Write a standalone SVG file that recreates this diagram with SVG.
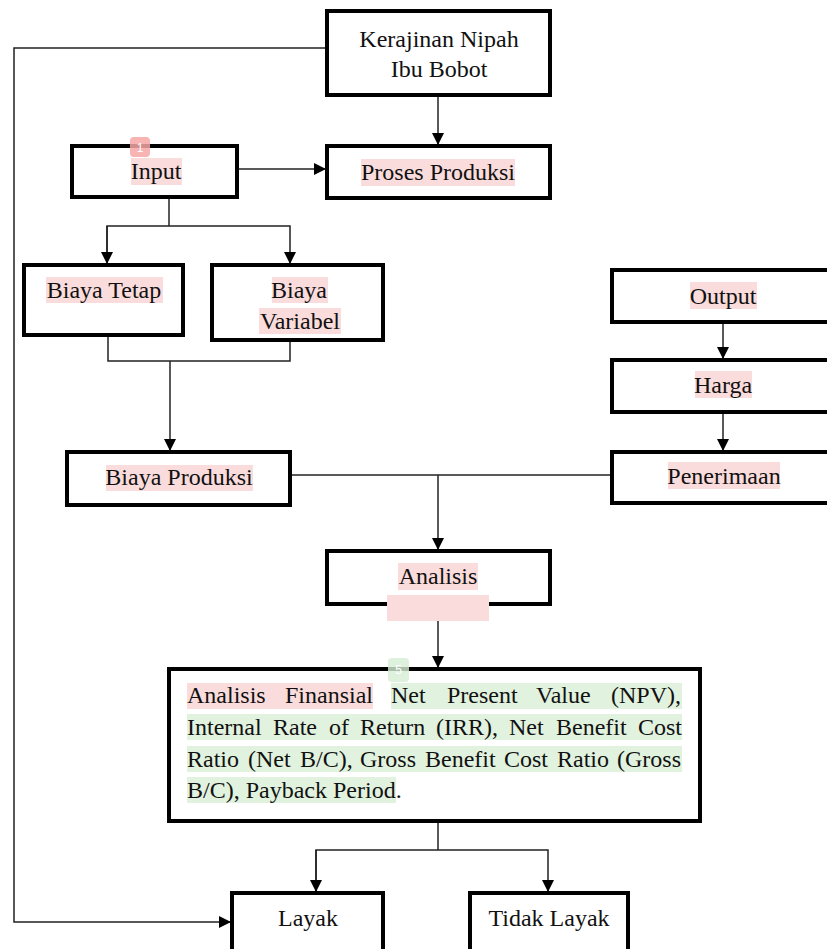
<svg xmlns="http://www.w3.org/2000/svg" width="827" height="949" viewBox="0 0 827 949">
<style>
.box{fill:#fff;stroke:#000;stroke-width:4}
.t{font-family:"Liberation Serif","Times New Roman",serif;font-size:24px;fill:#111;text-anchor:middle}
.j{font-family:"Liberation Serif","Times New Roman",serif;font-size:24px;fill:#111}
.c{fill:none;stroke:#222;stroke-width:1.5}
.pk{fill:#fbdcdc}
.gr{fill:#e1f2df}
</style>
<defs>
<marker id="ah" markerUnits="userSpaceOnUse" markerWidth="12" markerHeight="12" refX="12" refY="6" orient="auto">
<path d="M0,0 L12,6 L0,12 z" fill="#000"/>
</marker>
</defs>
<rect width="827" height="949" fill="#fff"/>
<g id="connectors">
<polyline class="c" points="327,48 14,48 14,922 231,922" marker-end="url(#ah)"/>
<line class="c" x1="438" y1="95" x2="438" y2="145" marker-end="url(#ah)"/>
<line class="c" x1="237" y1="169" x2="326" y2="169" marker-end="url(#ah)"/>
<line class="c" x1="169" y1="197" x2="169" y2="226"/>
<polyline class="c" points="107,264 107,226 290,226 290,264" marker-end="url(#ah)"/>
<line class="c" x1="107" y1="226" x2="107" y2="264" marker-end="url(#ah)"/>
<polyline class="c" points="108,335 108,361 290,361 290,340"/>
<line class="c" x1="170" y1="361" x2="170" y2="451" marker-end="url(#ah)"/>
<line class="c" x1="290" y1="475" x2="612" y2="475"/>
<line class="c" x1="438" y1="475" x2="438" y2="550" marker-end="url(#ah)"/>
<line class="c" x1="723" y1="322" x2="723" y2="359" marker-end="url(#ah)"/>
<line class="c" x1="723" y1="412" x2="723" y2="451" marker-end="url(#ah)"/>
<line class="c" x1="438" y1="604" x2="438" y2="668" marker-end="url(#ah)"/>
<line class="c" x1="438" y1="821" x2="438" y2="850"/>
<polyline class="c" points="316,892 316,850 548,850 548,892" marker-end="url(#ah)"/>
<line class="c" x1="316" y1="850" x2="316" y2="892" marker-end="url(#ah)"/>
</g>
<g id="kerajinan">
<rect class="box" x="327" y="11" width="223" height="84"/>
<text class="t" x="439" y="47">Kerajinan Nipah</text>
<text class="t" x="439" y="77">Ibu Bobot</text>
</g>
<g id="input">
<rect class="box" x="72" y="146" width="165" height="51"/>
<rect class="pk" x="131" y="158" width="51" height="27"/>
<text class="t" x="156" y="179">Input</text>
<rect x="130" y="137" width="20" height="20" rx="4" fill="#f7a6a6" opacity="0.85"/>
<text x="140" y="152" font-family="Liberation Sans, Arial, sans-serif" font-size="12" fill="#fff" text-anchor="middle">1</text>
</g>
<g id="proses">
<rect class="box" x="327" y="146" width="223" height="52"/>
<rect class="pk" x="361" y="159" width="154" height="27"/>
<text class="t" x="438" y="180">Proses Produksi</text>
</g>
<g id="biaya-tetap">
<rect class="box" x="24" y="265" width="159" height="70"/>
<rect class="pk" x="46" y="277" width="117" height="26"/>
<text class="t" x="104" y="298">Biaya Tetap</text>
</g>
<g id="biaya-variabel">
<rect class="box" x="212" y="265" width="171" height="75"/>
<rect class="pk" x="272" y="277" width="56" height="26"/>
<rect class="pk" x="259" y="308" width="82" height="26"/>
<text class="t" x="299" y="298">Biaya</text>
<text class="t" x="300" y="329">Variabel</text>
</g>
<g id="biaya-produksi">
<rect class="box" x="67" y="452" width="223" height="53"/>
<rect class="pk" x="106" y="465" width="147" height="26"/>
<text class="t" x="179" y="485">Biaya Produksi</text>
</g>
<g id="output">
<rect class="box" x="612" y="270" width="220" height="52"/>
<rect class="pk" x="690" y="282" width="67" height="27"/>
<text class="t" x="723" y="304">Output</text>
</g>
<g id="harga">
<rect class="box" x="612" y="360" width="220" height="52"/>
<rect class="pk" x="695" y="371" width="57" height="27"/>
<text class="t" x="723" y="393">Harga</text>
</g>
<g id="penerimaan">
<rect class="box" x="612" y="452" width="220" height="51"/>
<rect class="pk" x="668" y="462" width="112" height="27"/>
<text class="t" x="724" y="484">Penerimaan</text>
</g>
<g id="analisis">
<rect class="box" x="327" y="551" width="223" height="53"/>
<rect class="pk" x="398" y="563" width="80" height="27"/>
<rect class="pk" x="387" y="595" width="102" height="26"/>
<text class="t" x="438" y="584">Analisis</text>
</g>
<g id="analisis-finansial">
<rect class="box" x="169" y="669" width="531" height="152"/>
<rect class="pk" x="187" y="683" width="186" height="26"/>
<rect class="gr" x="391" y="683" width="291" height="26"/>
<rect class="gr" x="187" y="714" width="495" height="26"/>
<rect class="gr" x="187" y="746" width="495" height="26"/>
<rect class="gr" x="187" y="777" width="209" height="26"/>
<text class="j" y="703"><tspan x="187">Analisis</tspan><tspan x="285">Finansial</tspan><tspan x="391">Net</tspan><tspan x="447">Present</tspan><tspan x="536">Value</tspan><tspan x="611">(NPV),</tspan></text>
<text class="j" y="735"><tspan x="187">Internal</tspan><tspan x="273">Rate</tspan><tspan x="329">of</tspan><tspan x="360">Return</tspan><tspan x="436">(IRR),</tspan><tspan x="509">Net</tspan><tspan x="556">Benefit</tspan><tspan x="638">Cost</tspan></text>
<text class="j" y="767"><tspan x="187">Ratio</tspan><tspan x="248">(Net</tspan><tspan x="300">B/C),</tspan><tspan x="360">Gross</tspan><tspan x="425">Benefit</tspan><tspan x="504">Cost</tspan><tspan x="557">Ratio</tspan><tspan x="617">(Gross</tspan></text>
<text class="j" x="187" y="798">B/C), Payback Period.</text>
<rect x="388" y="658" width="21" height="24" rx="4" fill="#d6eed3" opacity="0.8"/>
<text x="398.5" y="674" font-family="Liberation Sans, Arial, sans-serif" font-size="12" fill="#fff" text-anchor="middle">5</text>
</g>
<g id="layak">
<rect class="box" x="232" y="893" width="151" height="62"/>
<text class="t" x="308" y="926">Layak</text>
</g>
<g id="tidak-layak">
<rect class="box" x="470" y="893" width="158" height="62"/>
<text class="t" x="549" y="926">Tidak Layak</text>
</g>
</svg>
